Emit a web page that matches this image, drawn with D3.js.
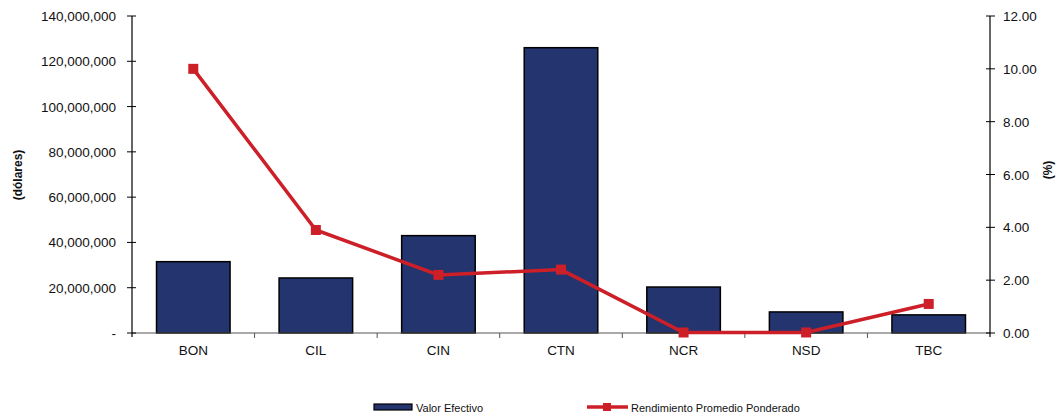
<!DOCTYPE html>
<html>
<head>
  <meta charset="utf-8">
  <title>valor efectivo</title>
  <style>
    body { margin: 0; background: #fff; }
    text { font-family: "Liberation Sans", Arial, sans-serif; fill: #111; }
  </style>
  <script src="https://d3js.org/d3.v7.min.js"></script>
</head>
<body>
  <script>
    var categories = ["BON", "CIL", "CIN", "CTN", "NCR", "NSD", "TBC"];
    var valorEfectivo = [31500000, 24300000, 43000000, 126000000, 20300000, 9300000, 8000000];
    var rendimiento = [10.0, 3.9, 2.2, 2.4, 0.02, 0.02, 1.1];
    var leftTicks = [0, 20000000, 40000000, 60000000, 80000000, 100000000, 120000000, 140000000];
    var rightTicks = [0, 2, 4, 6, 8, 10, 12];

    var width = 1059, height = 416;
    var pLeft = 132, pRight = 990, pTop = 16, pBottom = 333;

    var svg = d3.select('body').append('svg')
      .attr('width', width).attr('height', height);

    var x = d3.scaleBand().domain(categories).range([pLeft, pRight]).paddingInner(0.4).paddingOuter(0.2);
    var band = d3.scaleBand().domain(categories).range([pLeft, pRight]);
    var yL = d3.scaleLinear().domain([0, 140000000]).range([pBottom, pTop]);
    var yR = d3.scaleLinear().domain([0, 12]).range([pBottom, pTop]);

    var fmt = d3.format(',');

    // bars
    svg.selectAll('rect.bar')
      .data(categories)
      .enter().append('rect')
      .attr('class', 'bar')
      .attr('x', d => x(d))
      .attr('width', x.bandwidth())
      .attr('y', (d, i) => yL(valorEfectivo[i]))
      .attr('height', (d, i) => pBottom - yL(valorEfectivo[i]))
      .attr('fill', '#24346f')
      .attr('stroke', '#000')
      .attr('stroke-width', 1.5);

    // x axis line + ticks
    svg.append('line').attr('x1', pLeft).attr('x2', pRight).attr('y1', pBottom).attr('y2', pBottom)
      .attr('stroke', '#555').attr('stroke-width', 1);
    svg.selectAll('line.xt')
      .data(categories.slice(1))
      .enter().append('line')
      .attr('x1', d => band(d)).attr('x2', d => band(d))
      .attr('y1', pBottom).attr('y2', pBottom + 5)
      .attr('stroke', '#555');
    svg.selectAll('text.xl')
      .data(categories)
      .enter().append('text')
      .attr('x', d => band(d) + band.bandwidth() / 2)
      .attr('y', 355)
      .attr('text-anchor', 'middle')
      .attr('font-size', 13.5)
      .text(d => d);

    // left axis
    svg.append('line').attr('x1', pLeft).attr('x2', pLeft).attr('y1', pTop).attr('y2', pBottom + 4)
      .attr('stroke', '#000').attr('stroke-width', 1.2);
    svg.selectAll('line.lt')
      .data(leftTicks)
      .enter().append('line')
      .attr('x1', pLeft - 5).attr('x2', pLeft + 4)
      .attr('y1', d => yL(d)).attr('y2', d => yL(d))
      .attr('stroke', '#000');
    svg.selectAll('text.ll')
      .data(leftTicks)
      .enter().append('text')
      .attr('x', 116)
      .attr('y', d => yL(d) + 5)
      .attr('text-anchor', 'end')
      .attr('font-size', 13.5)
      .text(d => d === 0 ? '-' : fmt(d));
    svg.append('text')
      .attr('transform', 'translate(22,175) rotate(-90)')
      .attr('text-anchor', 'middle')
      .attr('font-size', 12).attr('font-weight', 'bold')
      .text('(dólares)');

    // right axis
    svg.append('line').attr('x1', pRight).attr('x2', pRight).attr('y1', pTop).attr('y2', pBottom + 4)
      .attr('stroke', '#000').attr('stroke-width', 1.2);
    svg.selectAll('line.rt')
      .data(rightTicks)
      .enter().append('line')
      .attr('x1', pRight - 4).attr('x2', pRight + 5)
      .attr('y1', d => yR(d)).attr('y2', d => yR(d))
      .attr('stroke', '#000');
    svg.selectAll('text.rl')
      .data(rightTicks)
      .enter().append('text')
      .attr('x', 1003)
      .attr('y', d => yR(d) + 5)
      .attr('font-size', 13.5)
      .text(d => d.toFixed(2));
    svg.append('text')
      .attr('transform', 'translate(1052,170) rotate(-90)')
      .attr('text-anchor', 'middle')
      .attr('font-size', 12).attr('font-weight', 'bold')
      .text('(%)');

    // line series
    var line = d3.line()
      .x((d, i) => band(categories[i]) + band.bandwidth() / 2)
      .y(d => yR(d));
    svg.append('path')
      .datum(rendimiento)
      .attr('d', line)
      .attr('fill', 'none')
      .attr('stroke', '#cc1f27')
      .attr('stroke-width', 3.5);
    svg.selectAll('rect.mk')
      .data(rendimiento)
      .enter().append('rect')
      .attr('x', (d, i) => band(categories[i]) + band.bandwidth() / 2 - 5)
      .attr('y', d => yR(d) - 5)
      .attr('width', 10).attr('height', 10)
      .attr('fill', '#cc1f27');

    // legend
    var lg = svg.append('g');
    lg.append('rect').attr('x', 374).attr('y', 404).attr('width', 38).attr('height', 6)
      .attr('fill', '#24346f').attr('stroke', '#000').attr('stroke-width', 1.2);
    lg.append('text').attr('x', 416).attr('y', 412).attr('font-size', 11).text('Valor Efectivo');
    lg.append('line').attr('x1', 587).attr('x2', 628).attr('y1', 407).attr('y2', 407)
      .attr('stroke', '#cc1f27').attr('stroke-width', 3.5);
    lg.append('rect').attr('x', 603).attr('y', 403).attr('width', 8).attr('height', 8).attr('fill', '#cc1f27');
    lg.append('text').attr('x', 631).attr('y', 412).attr('font-size', 11).text('Rendimiento Promedio Ponderado');
  </script>
</body>
</html>
